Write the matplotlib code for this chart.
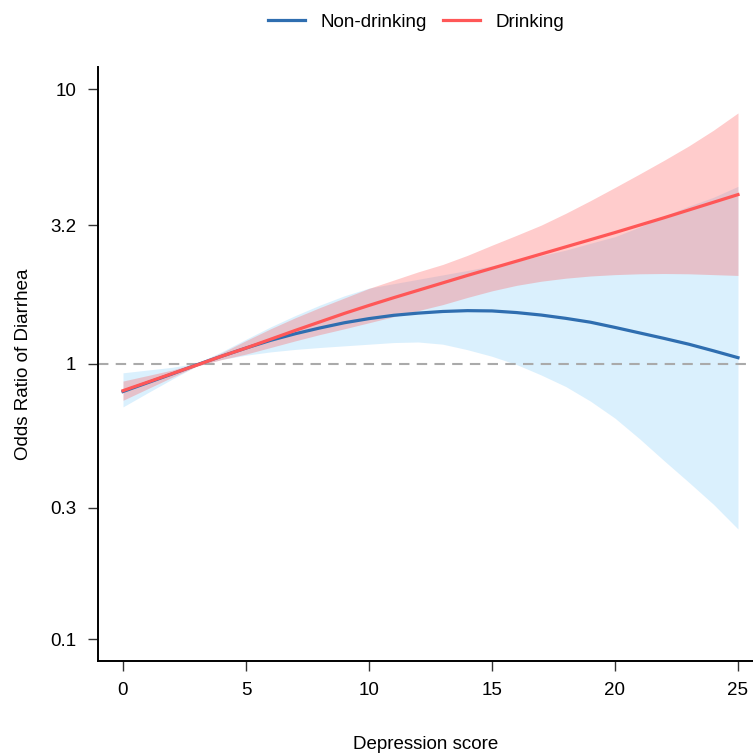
import numpy as np
import matplotlib
matplotlib.use("Agg")
import matplotlib.pyplot as plt

plt.rcParams['font.family'] = ['Liberation Sans', 'DejaVu Sans']

# depression score grid
score = list(range(26))

# log10 odds ratio
nd_log = [-0.100, -0.068, -0.036, -0.003, 0.028, 0.058, 0.086, 0.110, 0.131, 0.150,
          0.165, 0.177, 0.185, 0.191, 0.194, 0.193, 0.187, 0.178, 0.166, 0.152,
          0.133, 0.113, 0.093, 0.072, 0.048, 0.023]
nd_lo = [-0.156, -0.105, -0.055, -0.007, 0.016, 0.032, 0.044, 0.053, 0.060, 0.066,
         0.072, 0.078, 0.080, 0.072, 0.052, 0.028, -0.002, -0.040, -0.082, -0.135,
         -0.197, -0.272, -0.352, -0.430, -0.510, -0.600]
nd_hi = [-0.032, -0.022, -0.012, 0.003, 0.044, 0.090, 0.135, 0.176, 0.214, 0.248,
         0.276, 0.292, 0.308, 0.324, 0.340, 0.357, 0.374, 0.394, 0.414, 0.439,
         0.463, 0.498, 0.538, 0.574, 0.606, 0.646]

dr_log = [-0.097, -0.066, -0.035, -0.004, 0.028, 0.058, 0.090, 0.122, 0.153, 0.184,
          0.213, 0.241, 0.268, 0.295, 0.322, 0.348, 0.374, 0.400, 0.426, 0.452,
          0.478, 0.505, 0.532, 0.560, 0.588, 0.616]
dr_lo = [-0.132, -0.090, -0.048, -0.008, 0.016, 0.036, 0.060, 0.084, 0.107, 0.128,
         0.150, 0.172, 0.194, 0.216, 0.242, 0.266, 0.286, 0.301, 0.312, 0.320,
         0.325, 0.328, 0.329, 0.328, 0.325, 0.322]
dr_hi = [-0.062, -0.042, -0.022, 0.004, 0.040, 0.085, 0.128, 0.168, 0.205, 0.240,
         0.275, 0.305, 0.335, 0.362, 0.395, 0.432, 0.468, 0.505, 0.548, 0.594,
         0.642, 0.691, 0.741, 0.793, 0.850, 0.913]

yticks = [0.1, 0.3, 1, 3.2, 10]
ytick_labels = ['0.1', '0.3', '1', '3.2', '10']
xticks = [0, 5, 10, 15, 20, 25]

blue = '#2F6EB0'
red = '#FF5757'

fig = plt.figure(figsize=(7.53, 7.53), dpi=100)
ax = fig.add_axes([98/753, 1 - 661/753, 655/753, 594/753])

x = np.array(score)
ax.fill_between(x, 10**np.array(nd_lo), 10**np.array(nd_hi), color='#87CEFA', alpha=0.3, lw=0)
ax.fill_between(x, 10**np.array(dr_lo), 10**np.array(dr_hi), color=red, alpha=0.3, lw=0)
ax.axhline(1, color='#AAAAAA', lw=1.5, ls=(0, (5, 3.5)), zorder=1)
l1, = ax.plot(x, 10**np.array(nd_log), color=blue, lw=2.3, label='Non-drinking')
l2, = ax.plot(x, 10**np.array(dr_log), color=red, lw=2.3, label='Drinking')

ax.set_yscale('log')
ax.set_ylim(10**-1.08, 10**1.08)
ax.set_xlim(-1.016, 25.61)
ax.set_yticks(yticks)
ax.set_yticklabels(ytick_labels)
ax.minorticks_off()
ax.set_xticks(xticks)

for s in ['top', 'right']:
    ax.spines[s].set_visible(False)
for s in ['left', 'bottom']:
    ax.spines[s].set_linewidth(1.4)
ax.tick_params(axis='both', length=7, width=1, labelsize=13.5, pad=8.5, color='#333333')
ax.tick_params(axis='x', pad=8)

ax.set_xlabel('Depression score', fontsize=13.5, labelpad=27)
ax.set_ylabel('Odds Ratio of Diarrhea', fontsize=13.5, labelpad=13)

fig.legend(handles=[l1, l2], loc='center', bbox_to_anchor=(416/753, 1 - 22/753),
           ncol=2, frameon=False, fontsize=13.5, handlelength=2.0,
           handletextpad=0.8, columnspacing=0.85)

fig.savefig('out.png', dpi=100)
